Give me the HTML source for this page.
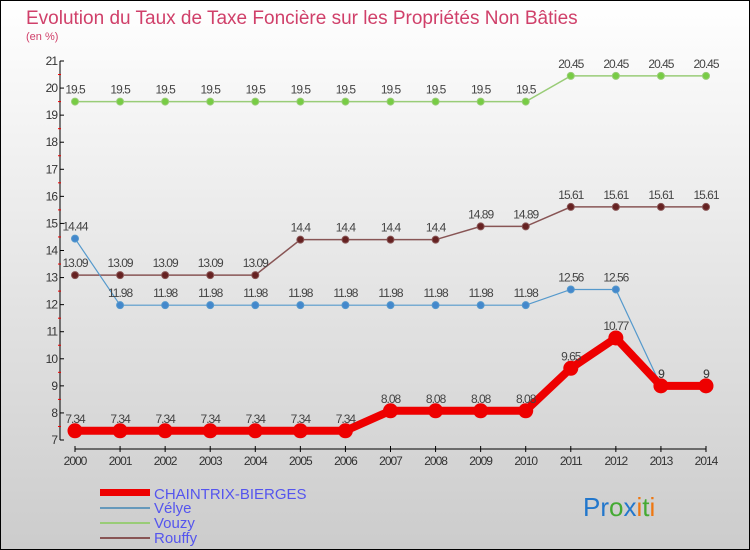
<!DOCTYPE html>
<html><head><meta charset="utf-8"><style>
body{margin:0;width:750px;height:550px;overflow:hidden}
svg{display:block;font-family:"Liberation Sans",sans-serif}
</style></head><body>
<svg width="750" height="550">
<defs><linearGradient id="bg" x1="0" y1="0" x2="0" y2="1"><stop offset="0" stop-color="#ffffff"/><stop offset="1" stop-color="#cccccc"/></linearGradient></defs>
<rect x="0.5" y="0.5" width="749" height="549" fill="url(#bg)" stroke="#000"/>
<text x="26" y="24" font-size="19" fill="#d0406a">Evolution du Taux de Taxe Foncière sur les Propriétés Non Bâties</text>
<text x="26" y="40" font-size="11" fill="#d0406a">(en %)</text>
<g id="axes"></g><g id="series"></g>
<g>
<rect x="100" y="489" width="50" height="7" fill="#ee0000"/>
<text x="154" y="499" font-size="15" fill="#5555ee">CHAINTRIX-BIERGES</text>
<rect x="100" y="507" width="50" height="2" fill="#6699bb"/>
<text x="154" y="513" font-size="15" fill="#5555ee">Vélye</text>
<rect x="100" y="522" width="50" height="2" fill="#99cc77"/>
<text x="154" y="528" font-size="15" fill="#5555ee">Vouzy</text>
<rect x="100" y="537" width="50" height="2" fill="#885555"/>
<text x="154" y="543" font-size="15" fill="#5555ee">Rouffy</text>
</g>
<text x="583" y="516" font-size="26"><tspan fill="#2277cc">Pr</tspan><tspan fill="#44aa33">o</tspan><tspan fill="#2277cc">x</tspan><tspan fill="#ee7711">i</tspan><tspan fill="#44aa33">t</tspan><tspan fill="#ee7711">i</tspan></text>
</svg>
<script>
const years=[2000,2001,2002,2003,2004,2005,2006,2007,2008,2009,2010,2011,2012,2013,2014];
const chaintrix=[7.34,7.34,7.34,7.34,7.34,7.34,7.34,8.08,8.08,8.08,8.08,9.65,10.77,9,9];
const velye=[14.44,11.98,11.98,11.98,11.98,11.98,11.98,11.98,11.98,11.98,11.98,12.56,12.56,9,9];
const vouzy=[19.5,19.5,19.5,19.5,19.5,19.5,19.5,19.5,19.5,19.5,19.5,20.45,20.45,20.45,20.45];
const rouffy=[13.09,13.09,13.09,13.09,13.09,14.4,14.4,14.4,14.4,14.89,14.89,15.61,15.61,15.61,15.61];
const yTicks=[7,8,9,10,11,12,13,14,15,16,17,18,19,20,21];
const NS="http://www.w3.org/2000/svg";
const x=i=>75+i*(706-75)/(years.length-1);
const y=v=>440-(v-7)*(440-61)/14;
function mk(t,a,p){const e=document.createElementNS(NS,t);for(const k in a)e.setAttribute(k,a[k]);p.appendChild(e);return e;}
const ax=document.getElementById('axes');
const yl=mk('line',{x1:60,y1:61,x2:60,y2:440,stroke:'#000'},ax);


yTicks.forEach(v=>{
 mk('line',{x1:60,x2:64,y1:y(v),y2:y(v),stroke:'#000'},ax);
 if(v<21)mk('line',{x1:58,x2:61,y1:y(v+0.5),y2:y(v+0.5),stroke:'#e00'},ax);
 const t=mk('text',{x:57,y:y(v)+4,'text-anchor':'end','font-size':12,fill:'#333','letter-spacing':'-1'},ax);t.textContent=v;
 
 
});
const xl=mk('line',{x1:75,y1:449,x2:706,y2:449,stroke:'#000'},ax);


years.forEach((yr,i)=>{
 mk('line',{x1:x(i),x2:x(i),y1:446,y2:452,stroke:'#000'},ax);
 const t=mk('text',{x:x(i),y:465,'text-anchor':'middle','font-size':12,fill:'#333','letter-spacing':'-1'},ax);t.textContent=yr;
 
 
});
const sg=document.getElementById('series');
function draw(vals,name,col,w,r,dot){
 const g=mk('g',{},sg);
 
 
 mk('polyline',{points:vals.map((v,i)=>x(i)+','+y(v)).join(' '),fill:'none',stroke:col,'stroke-width':w},g);
 vals.forEach((v,i)=>{
  const c=mk('circle',{cx:x(i),cy:y(v),r:r,fill:dot,stroke:col,'stroke-width':1},g);
  
  
  const t=mk('text',{x:x(i),y:y(v)-8,'text-anchor':'middle','font-size':12,fill:'#444','letter-spacing':'-1'},g);t.textContent=v;
  
  
 });
}
draw(vouzy,'vouzy','#99cc77',1.5,3.5,'#77cc44');
draw(rouffy,'rouffy','#885555',1.5,3.5,'#662222');
draw(velye,'velye','#5599cc',1.2,3.5,'#4488cc');
draw(chaintrix,'chaintrix','#ee0000',8,7,'#ee0000');
</script>
</body></html>
